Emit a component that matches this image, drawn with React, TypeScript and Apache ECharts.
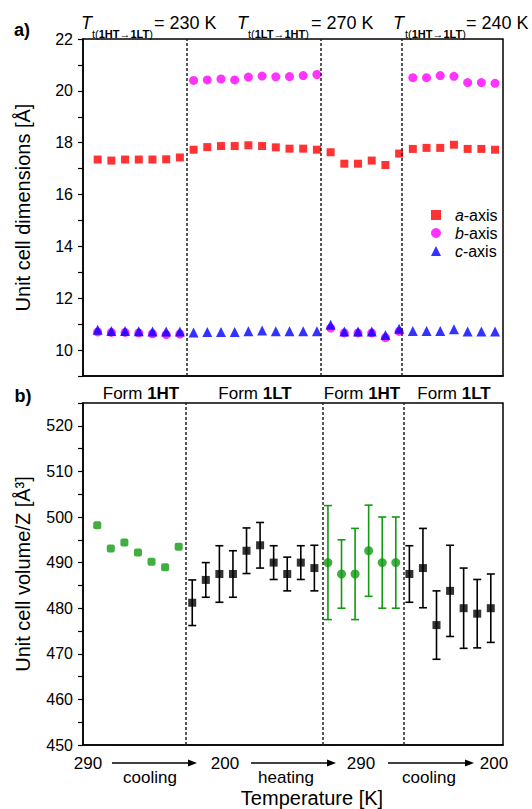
import React, { useEffect, useRef } from 'react';
import * as echarts from 'echarts';

const FONT = '"Liberation Sans", Arial, sans-serif';

// measurement step (position along the temperature programme)
const stepsCool1 = [0, 1, 2, 3, 4, 5, 6];
const stepsHeat = [7, 8, 9, 10, 11, 12, 13, 14, 15, 16];
const stepsHT2 = [17, 18, 19, 20, 21, 22];
const stepsCool2 = [23, 24, 25, 26, 27, 28, 29];
const stepsAll = [...stepsCool1, ...stepsHeat, ...stepsHT2, ...stepsCool2];

// a) unit cell dimensions [Å]
const aAxis = [
  17.35, 17.31, 17.35, 17.35, 17.35, 17.36, 17.43,
  17.73, 17.83, 17.87, 17.87, 17.9, 17.87, 17.82, 17.77, 17.77, 17.73,
  17.63, 17.19, 17.19, 17.31, 17.14, 17.58,
  17.76, 17.8, 17.8, 17.92, 17.76, 17.76, 17.73,
];
const bAxis = [
  10.7, 10.68, 10.68, 10.66, 10.63, 10.6, 10.62,
  20.4, 20.42, 20.46, 20.42, 20.53, 20.57, 20.54, 20.55, 20.59, 20.63,
  10.85, 10.66, 10.66, 10.66, 10.48, 10.72,
  20.51, 20.51, 20.59, 20.56, 20.32, 20.32, 20.29,
];
const cAxis = [
  10.78, 10.74, 10.74, 10.73, 10.72, 10.72, 10.72,
  10.68, 10.7, 10.7, 10.7, 10.73, 10.76, 10.73, 10.73, 10.73, 10.73,
  10.98, 10.72, 10.72, 10.72, 10.58, 10.82,
  10.74, 10.74, 10.74, 10.8, 10.72, 10.72, 10.72,
];

// b) unit cell volume / Z [Å³] and its error
const volCool1 = [498.2, 493.1, 494.4, 492.2, 490.2, 489.0, 493.5];
const volHeat = [481.2, 486.2, 487.5, 487.5, 492.6, 493.8, 490.0, 487.5, 490.0, 488.8];
const errHeat = [5.0, 3.8, 6.2, 5.1, 5.0, 5.0, 3.7, 3.7, 3.7, 5.0];
const volHT2 = [490.0, 487.5, 487.5, 492.6, 490.0, 490.0];
const errHT2 = [12.5, 7.5, 10.0, 10.0, 10.0, 10.0];
const volCool2 = [487.5, 488.8, 476.3, 483.8, 480.0, 478.8, 480.0];
const errCool2 = [6.2, 8.7, 7.5, 10.0, 8.8, 7.5, 7.5];

// phase boundaries (in step units) for each panel
const boundariesTop = [6.5, 16.28, 22.16];
const boundariesBottom = [6.52, 16.59, 22.56];

const GREEN = '#129a12';

function errBarSeries(name: string, steps: number[], vals: number[], errs: number[], color: string) {
  return {
    name,
    type: 'custom',
    xAxisIndex: 1,
    yAxisIndex: 1,
    encode: { x: 0, y: 1 },
    data: steps.map((s, i) => [s, vals[i], errs[i]]),
    renderItem: (params: any, api: any) => {
      const x = api.value(0);
      const y = api.value(1);
      const e = api.value(2);
      const lo = api.coord([x, y - e]);
      const hi = api.coord([x, y + e]);
      const cap = 4;
      const st = { stroke: color, lineWidth: 1.6 };
      return {
        type: 'group',
        children: [
          { type: 'line', shape: { x1: lo[0], y1: lo[1], x2: hi[0], y2: hi[1] }, style: st },
          { type: 'line', shape: { x1: lo[0] - cap, y1: lo[1], x2: lo[0] + cap, y2: lo[1] }, style: st },
          { type: 'line', shape: { x1: hi[0] - cap, y1: hi[1], x2: hi[0] + cap, y2: hi[1] }, style: st },
        ],
      };
    },
    z: 2,
  };
}

function txt(x: number, y: number, text: string, extra: any = {}) {
  return {
    type: 'text',
    x,
    y,
    style: {
      text,
      fontFamily: FONT,
      fontSize: 17,
      fill: '#000',
      align: 'center',
      verticalAlign: 'middle',
      textAlign: 'center',
      textVerticalAlign: 'middle',
      ...extra,
    },
  };
}

function header(xT: number, xSub: number, xEq: number, from: string, to: string, temp: string) {
  return [
    txt(xT, 23, 'T', { fontStyle: 'italic', fontSize: 18, align: 'left', textAlign: 'left' }),
    txt(xSub, 34, `t({b|${from}}→{b|${to}})`, {
      fontSize: 11,
      align: 'left',
      textAlign: 'left',
      rich: { b: { fontWeight: 'bold', fontSize: 11, fontFamily: FONT } },
    }),
    txt(xEq, 23, `= ${temp} K`, { fontSize: 18, align: 'left', textAlign: 'left' }),
  ];
}

function arrow(x1: number, x2: number, y: number) {
  return [
    { type: 'line', shape: { x1, y1: y, x2: x2 - 6, y2: y }, style: { stroke: '#000', lineWidth: 1.5 } },
    { type: 'polygon', shape: { points: [[x2, y], [x2 - 9, y - 3.5], [x2 - 9, y + 3.5]] }, style: { fill: '#000' } },
  ];
}

const axisStyle = { color: '#000', width: 1.5 };

export default function App() {
  const ref = useRef<HTMLDivElement>(null);
  useEffect(() => {
    if (!ref.current) return;
    const chart = echarts.init(ref.current, null, { renderer: 'svg' });
    const dashed = (vals: number[]) => ({
      silent: true,
      symbol: 'none',
      label: { show: false },
      lineStyle: { type: [3, 2], color: '#222', width: 1.5 },
      data: vals.map((v) => ({ xAxis: v })),
    });
    const option: any = {
      animation: false,
      backgroundColor: '#fff',
      textStyle: { fontFamily: FONT },
      grid: [
        { left: 83, right: 29, top: 39, height: 337, show: true, borderColor: '#000', borderWidth: 1.5 },
        { left: 83, right: 29, top: 403, height: 342, show: true, borderColor: '#000', borderWidth: 1.5 },
      ],
      xAxis: [
        {
          gridIndex: 0, type: 'value', min: -1.07, max: 29.58,
          axisLine: { show: true, onZero: false, lineStyle: axisStyle }, axisTick: { show: false },
          axisLabel: { show: false }, splitLine: { show: false },
        },
        {
          gridIndex: 1, type: 'value', min: -1.05, max: 29.9,
          axisLine: { show: true, onZero: false, lineStyle: axisStyle }, axisTick: { show: false },
          axisLabel: { show: false }, splitLine: { show: false },
        },
      ],
      yAxis: [
        {
          gridIndex: 0, type: 'value', min: 9, max: 22, interval: 1,
          axisLine: { show: true, onZero: false, lineStyle: axisStyle },
          axisTick: { show: true, inside: false, length: 5, lineStyle: { color: '#000', width: 1.2 } },
          axisLabel: {
            fontSize: 16, color: '#000', margin: 10, fontFamily: FONT,
            formatter: (v: number) => (v % 2 === 0 ? String(v) : ''),
          },
          splitLine: { show: false },
          name: 'Unit cell dimensions [Å]', nameLocation: 'middle', nameGap: 50,
          nameTextStyle: { fontSize: 20, color: '#000', fontFamily: FONT },
        },
        {
          gridIndex: 1, type: 'value', min: 450, max: 525, interval: 5,
          axisLine: { show: true, onZero: false, lineStyle: axisStyle },
          axisTick: { show: true, inside: false, length: 5, lineStyle: { color: '#000', width: 1.2 } },
          axisLabel: {
            fontSize: 16, color: '#000', margin: 10, fontFamily: FONT,
            formatter: (v: number) => (v % 10 === 0 ? String(v) : ''),
          },
          splitLine: { show: false },
          name: 'Unit cell volume/Z [Å³]', nameLocation: 'middle', nameGap: 50,
          nameTextStyle: { fontSize: 20, color: '#000', fontFamily: FONT },
        },
      ],
      legend: {
        data: ['a-axis', 'b-axis', 'c-axis'],
        orient: 'vertical',
        left: 426,
        top: 202,
        itemWidth: 10,
        itemHeight: 10,
        itemGap: 2,
        formatter: (n: string) => `  {i|${n.charAt(0)}}${n.slice(1)}`,
        textStyle: {
          fontSize: 16, color: '#000', fontFamily: FONT,
          rich: { i: { fontStyle: 'italic', fontSize: 16, fontFamily: FONT, color: '#000' } },
        },
      },
      series: [
        {
          name: 'a-axis', type: 'scatter', xAxisIndex: 0, yAxisIndex: 0,
          symbol: 'rect', symbolSize: 8, itemStyle: { color: '#ff0000' },
          data: stepsAll.map((s, i) => [s, aAxis[i]]),
          markLine: dashed(boundariesTop),
        },
        {
          name: 'b-axis', type: 'scatter', xAxisIndex: 0, yAxisIndex: 0,
          symbol: 'circle', symbolSize: 9, itemStyle: { color: '#ff00ff' },
          data: stepsAll.map((s, i) => [s, bAxis[i]]),
        },
        {
          name: 'c-axis', type: 'scatter', xAxisIndex: 0, yAxisIndex: 0,
          symbol: 'triangle', symbolSize: 10, itemStyle: { color: '#0000ff' },
          data: stepsAll.map((s, i) => [s, cAxis[i]]),
        },
        errBarSeries('err heating', stepsHeat, volHeat, errHeat, '#000'),
        errBarSeries('err cooling 2', stepsCool2, volCool2, errCool2, '#000'),
        errBarSeries('err 1HT', stepsHT2, volHT2, errHT2, GREEN),
        {
          name: 'V cooling 1', type: 'scatter', xAxisIndex: 1, yAxisIndex: 1,
          symbol: 'roundRect', symbolSize: 8, itemStyle: { color: GREEN },
          data: stepsCool1.map((s, i) => [s, volCool1[i]]),
          markLine: dashed(boundariesBottom), z: 3,
        },
        {
          name: 'V 1HT', type: 'scatter', xAxisIndex: 1, yAxisIndex: 1,
          symbol: 'circle', symbolSize: 9, itemStyle: { color: GREEN },
          data: stepsHT2.map((s, i) => [s, volHT2[i]]), z: 3,
        },
        {
          name: 'V 1LT', type: 'scatter', xAxisIndex: 1, yAxisIndex: 1,
          symbol: 'rect', symbolSize: 8, itemStyle: { color: '#000' },
          data: [
            ...stepsHeat.map((s, i) => [s, volHeat[i]]),
            ...stepsCool2.map((s, i) => [s, volCool2[i]]),
          ], z: 3,
        },
      ],
      graphic: [
        txt(22, 30, 'a)', { fontWeight: 'bold', fontSize: 18 }),
        txt(23, 396, 'b)', { fontWeight: 'bold', fontSize: 18 }),
        ...header(81, 92, 154, '1HT', '1LT', '230'),
        ...header(237, 248, 311, '1LT', '1HT', '270'),
        ...header(393, 405, 466, '1HT', '1LT', '240'),
        txt(141, 393, 'Form {b|1HT}', { rich: { b: { fontWeight: 'bold', fontSize: 17, fontFamily: FONT } } }),
        txt(255, 393, 'Form {b|1LT}', { rich: { b: { fontWeight: 'bold', fontSize: 17, fontFamily: FONT } } }),
        txt(362, 393, 'Form {b|1HT}', { rich: { b: { fontWeight: 'bold', fontSize: 17, fontFamily: FONT } } }),
        txt(454, 393, 'Form {b|1LT}', { rich: { b: { fontWeight: 'bold', fontSize: 17, fontFamily: FONT } } }),
        txt(88, 763, '290'),
        txt(225, 763, '200'),
        txt(361, 763, '290'),
        txt(494, 763, '200'),
        ...arrow(112, 197, 763),
        ...arrow(251, 336, 763),
        ...arrow(388, 474, 763),
        txt(150, 777, 'cooling'),
        txt(286, 777, 'heating'),
        txt(429, 777, 'cooling'),
        txt(312, 798, 'Temperature [K]', { fontSize: 20 }),
      ],
    };
    chart.setOption(option);
    return () => chart.dispose();
  }, []);
  return (
    <div
      ref={ref}
      style={{ position: 'absolute', left: 0, top: 0, width: 532, height: 809, background: '#fff' }}
    />
  );
}
